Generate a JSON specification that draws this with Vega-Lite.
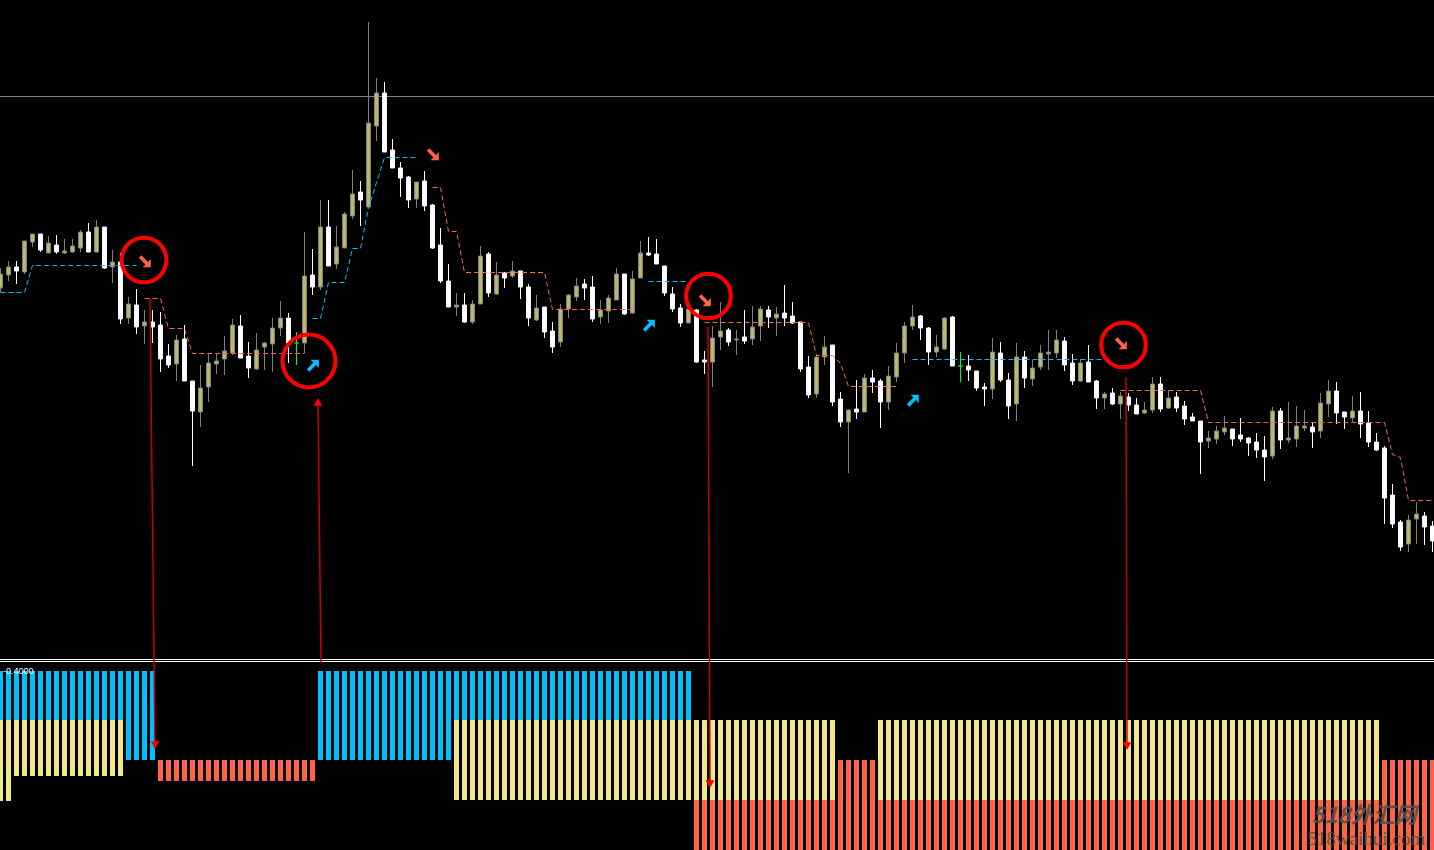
{
  "$schema": "https://vega.github.io/schema/vega-lite/v6.json",
  "width": 1434,
  "height": 850,
  "autosize": {"type": "none"},
  "padding": 0,
  "background": "#000000",
  "config": {"view": {"stroke": null}},
  "datasets": {
    "candles": [
      {"i":0,"o":372,"h":392,"l":368,"c":386,"s":368,"g":1,"t":"up"},
      {"i":1,"o":385,"h":399,"l":379,"c":393,"s":368,"g":1,"t":"up"},
      {"i":2,"o":393,"h":399,"l":376,"c":389,"s":368,"g":1,"t":"up"},
      {"i":3,"o":388,"h":419,"l":386,"c":419,"s":368,"g":1,"t":"up"},
      {"i":4,"o":418,"h":426,"l":413,"c":426,"s":395,"g":1,"t":"up"},
      {"i":5,"o":426,"h":426,"l":408,"c":410,"s":395,"g":1,"t":"up"},
      {"i":6,"o":407,"h":424,"l":407,"c":417,"s":395,"g":1,"t":"up"},
      {"i":7,"o":415,"h":425,"l":406,"c":408,"s":395,"g":1,"t":"up"},
      {"i":8,"o":407,"h":421,"l":406,"c":409,"s":395,"g":1,"t":"up"},
      {"i":9,"o":408,"h":421,"l":407,"c":414,"s":395,"g":1,"t":"up"},
      {"i":10,"o":412,"h":430,"l":408,"c":428,"s":395,"g":1,"t":"up"},
      {"i":11,"o":428,"h":437,"l":408,"c":408,"s":395,"g":1,"t":"up"},
      {"i":12,"o":408,"h":440,"l":407,"c":433,"s":395,"g":1,"t":"up"},
      {"i":13,"o":433,"h":433,"l":391,"c":392,"s":395,"g":1,"t":"up"},
      {"i":14,"o":393,"h":410,"l":377,"c":398,"s":395,"g":1,"t":"up"},
      {"i":15,"o":398,"h":407,"l":336,"c":341,"s":395,"g":1,"t":"up"},
      {"i":16,"o":342,"h":363,"l":336,"c":356,"s":395,"g":1,"t":"up"},
      {"i":17,"o":355,"h":371,"l":326,"c":333,"s":395,"g":1,"t":"up"},
      {"i":18,"o":334,"h":350,"l":316,"c":338,"s":362,"g":2,"t":"dn"},
      {"i":19,"o":338,"h":350,"l":317,"c":333,"s":362,"g":2,"t":"dn"},
      {"i":20,"o":335,"h":348,"l":288,"c":301,"s":362,"g":2,"t":"dn"},
      {"i":21,"o":304,"h":316,"l":292,"c":295,"s":332,"g":2,"t":"dn"},
      {"i":22,"o":296,"h":325,"l":279,"c":320,"s":332,"g":2,"t":"dn"},
      {"i":23,"o":321,"h":335,"l":279,"c":279,"s":332,"g":2,"t":"dn"},
      {"i":24,"o":279,"h":279,"l":194,"c":249,"s":307,"g":2,"t":"dn"},
      {"i":25,"o":248,"h":295,"l":233,"c":272,"s":307,"g":2,"t":"dn"},
      {"i":26,"o":273,"h":307,"l":258,"c":297,"s":307,"g":2,"t":"dn"},
      {"i":27,"o":296,"h":307,"l":286,"c":299,"s":307,"g":2,"t":"dn"},
      {"i":28,"o":301,"h":324,"l":285,"c":309,"s":307,"g":2,"t":"dn"},
      {"i":29,"o":307,"h":341,"l":305,"c":335,"s":307,"g":2,"t":"dn"},
      {"i":30,"o":334,"h":345,"l":302,"c":302,"s":307,"g":2,"t":"dn"},
      {"i":31,"o":304,"h":318,"l":282,"c":292,"s":307,"g":2,"t":"dn"},
      {"i":32,"o":291,"h":327,"l":290,"c":310,"s":307,"g":2,"t":"dn"},
      {"i":33,"o":313,"h":318,"l":290,"c":317,"s":307,"g":2,"t":"dn"},
      {"i":34,"o":316,"h":342,"l":288,"c":332,"s":307,"g":2,"t":"dn"},
      {"i":35,"o":332,"h":359,"l":324,"c":342,"s":307,"g":2,"t":"dn"},
      {"i":36,"o":342,"h":347,"l":297,"c":317,"s":307,"g":2,"t":"dn"},
      {"i":37,"o":317,"h":328,"l":295,"c":317,"s":307,"g":2,"t":"dn"},
      {"i":38,"o":317,"h":428,"l":307,"c":384,"s":307,"g":2,"t":"dn"},
      {"i":39,"o":385,"h":411,"l":365,"c":373,"s":342,"g":3,"t":"up"},
      {"i":40,"o":373,"h":460,"l":370,"c":433,"s":342,"g":3,"t":"up"},
      {"i":41,"o":433,"h":460,"l":394,"c":394,"s":378,"g":3,"t":"up"},
      {"i":42,"o":396,"h":434,"l":391,"c":413,"s":378,"g":3,"t":"up"},
      {"i":43,"o":412,"h":448,"l":412,"c":446,"s":378,"g":3,"t":"up"},
      {"i":44,"o":444,"h":490,"l":441,"c":466,"s":412,"g":3,"t":"up"},
      {"i":45,"o":468,"h":479,"l":434,"c":460,"s":412,"g":3,"t":"up"},
      {"i":46,"o":453,"h":638,"l":452,"c":537,"s":453,"g":3,"t":"up"},
      {"i":47,"o":534,"h":582,"l":519,"c":567,"s":478,"g":3,"t":"up"},
      {"i":48,"o":567,"h":578,"l":508,"c":508,"s":503,"g":3,"t":"up"},
      {"i":49,"o":510,"h":521,"l":492,"c":492,"s":503,"g":3,"t":"up"},
      {"i":50,"o":492,"h":498,"l":463,"c":482,"s":503,"g":3,"t":"up"},
      {"i":51,"o":483,"h":484,"l":452,"c":460,"s":503,"g":3,"t":"up"},
      {"i":52,"o":461,"h":478,"l":452,"c":478,"s":503,"g":3,"t":"up"},
      {"i":53,"o":479,"h":489,"l":449,"c":454,"s":null,"g":null,"t":null},
      {"i":54,"o":455,"h":456,"l":411,"c":412,"s":473,"g":4,"t":"dn"},
      {"i":55,"o":415,"h":432,"l":377,"c":379,"s":473,"g":4,"t":"dn"},
      {"i":56,"o":379,"h":396,"l":353,"c":353,"s":429,"g":4,"t":"dn"},
      {"i":57,"o":353,"h":367,"l":344,"c":355,"s":429,"g":4,"t":"dn"},
      {"i":58,"o":355,"h":367,"l":337,"c":338,"s":388,"g":4,"t":"dn"},
      {"i":59,"o":338,"h":360,"l":336,"c":356,"s":388,"g":4,"t":"dn"},
      {"i":60,"o":356,"h":414,"l":356,"c":404,"s":388,"g":4,"t":"dn"},
      {"i":61,"o":406,"h":408,"l":363,"c":367,"s":388,"g":4,"t":"dn"},
      {"i":62,"o":366,"h":398,"l":365,"c":385,"s":388,"g":4,"t":"dn"},
      {"i":63,"o":387,"h":388,"l":372,"c":382,"s":388,"g":4,"t":"dn"},
      {"i":64,"o":384,"h":399,"l":382,"c":389,"s":388,"g":4,"t":"dn"},
      {"i":65,"o":389,"h":389,"l":361,"c":373,"s":388,"g":4,"t":"dn"},
      {"i":66,"o":373,"h":376,"l":334,"c":342,"s":388,"g":4,"t":"dn"},
      {"i":67,"o":340,"h":365,"l":339,"c":352,"s":388,"g":4,"t":"dn"},
      {"i":68,"o":353,"h":353,"l":322,"c":328,"s":388,"g":4,"t":"dn"},
      {"i":69,"o":329,"h":338,"l":307,"c":313,"s":351,"g":4,"t":"dn"},
      {"i":70,"o":318,"h":356,"l":313,"c":351,"s":351,"g":4,"t":"dn"},
      {"i":71,"o":351,"h":366,"l":342,"c":365,"s":351,"g":4,"t":"dn"},
      {"i":72,"o":363,"h":382,"l":359,"c":374,"s":351,"g":4,"t":"dn"},
      {"i":73,"o":376,"h":381,"l":360,"c":372,"s":351,"g":4,"t":"dn"},
      {"i":74,"o":373,"h":384,"l":338,"c":341,"s":351,"g":4,"t":"dn"},
      {"i":75,"o":343,"h":360,"l":336,"c":350,"s":351,"g":4,"t":"dn"},
      {"i":76,"o":349,"h":365,"l":337,"c":362,"s":351,"g":4,"t":"dn"},
      {"i":77,"o":360,"h":392,"l":360,"c":386,"s":351,"g":4,"t":"dn"},
      {"i":78,"o":386,"h":386,"l":345,"c":346,"s":351,"g":4,"t":"dn"},
      {"i":79,"o":347,"h":389,"l":346,"c":381,"s":351,"g":4,"t":"dn"},
      {"i":80,"o":382,"h":419,"l":382,"c":407,"s":null,"g":null,"t":null},
      {"i":81,"o":407,"h":423,"l":404,"c":405,"s":379,"g":5,"t":"up"},
      {"i":82,"o":406,"h":421,"l":396,"c":396,"s":379,"g":5,"t":"up"},
      {"i":83,"o":394,"h":394,"l":364,"c":367,"s":379,"g":5,"t":"up"},
      {"i":84,"o":366,"h":373,"l":348,"c":351,"s":379,"g":5,"t":"up"},
      {"i":85,"o":352,"h":356,"l":333,"c":337,"s":379,"g":5,"t":"up"},
      {"i":86,"o":337,"h":351,"l":337,"c":351,"s":379,"g":5,"t":"up"},
      {"i":87,"o":350,"h":351,"l":297,"c":298,"s":null,"g":null,"t":null},
      {"i":88,"o":300,"h":309,"l":286,"c":298,"s":338,"g":6,"t":"dn"},
      {"i":89,"o":298,"h":334,"l":273,"c":322,"s":338,"g":6,"t":"dn"},
      {"i":90,"o":323,"h":358,"l":310,"c":329,"s":338,"g":6,"t":"dn"},
      {"i":91,"o":330,"h":332,"l":314,"c":318,"s":338,"g":6,"t":"dn"},
      {"i":92,"o":320,"h":330,"l":305,"c":321,"s":338,"g":6,"t":"dn"},
      {"i":93,"o":323,"h":350,"l":316,"c":319,"s":338,"g":6,"t":"dn"},
      {"i":94,"o":321,"h":354,"l":315,"c":333,"s":338,"g":6,"t":"dn"},
      {"i":95,"o":334,"h":354,"l":319,"c":351,"s":338,"g":6,"t":"dn"},
      {"i":96,"o":350,"h":354,"l":332,"c":343,"s":338,"g":6,"t":"dn"},
      {"i":97,"o":342,"h":353,"l":324,"c":346,"s":338,"g":6,"t":"dn"},
      {"i":98,"o":347,"h":375,"l":334,"c":342,"s":338,"g":6,"t":"dn"},
      {"i":99,"o":344,"h":358,"l":336,"c":337,"s":338,"g":6,"t":"dn"},
      {"i":100,"o":338,"h":338,"l":288,"c":291,"s":338,"g":6,"t":"dn"},
      {"i":101,"o":293,"h":304,"l":262,"c":265,"s":338,"g":6,"t":"dn"},
      {"i":102,"o":266,"h":305,"l":262,"c":303,"s":305,"g":6,"t":"dn"},
      {"i":103,"o":303,"h":324,"l":295,"c":313,"s":305,"g":6,"t":"dn"},
      {"i":104,"o":315,"h":315,"l":254,"c":258,"s":305,"g":6,"t":"dn"},
      {"i":105,"o":261,"h":268,"l":233,"c":238,"s":297,"g":6,"t":"dn"},
      {"i":106,"o":238,"h":251,"l":187,"c":250,"s":274,"g":6,"t":"dn"},
      {"i":107,"o":251,"h":280,"l":241,"c":248,"s":274,"g":6,"t":"dn"},
      {"i":108,"o":248,"h":286,"l":248,"c":282,"s":274,"g":6,"t":"dn"},
      {"i":109,"o":282,"h":290,"l":267,"c":278,"s":274,"g":6,"t":"dn"},
      {"i":110,"o":279,"h":281,"l":232,"c":258,"s":274,"g":6,"t":"dn"},
      {"i":111,"o":258,"h":294,"l":250,"c":284,"s":274,"g":6,"t":"dn"},
      {"i":112,"o":283,"h":317,"l":278,"c":307,"s":274,"g":6,"t":"dn"},
      {"i":113,"o":307,"h":338,"l":297,"c":334,"s":null,"g":null,"t":null},
      {"i":114,"o":334,"h":355,"l":330,"c":343,"s":301,"g":7,"t":"up"},
      {"i":115,"o":344,"h":345,"l":320,"c":332,"s":301,"g":7,"t":"up"},
      {"i":116,"o":332,"h":333,"l":295,"c":308,"s":301,"g":7,"t":"up"},
      {"i":117,"o":308,"h":325,"l":303,"c":313,"s":301,"g":7,"t":"up"},
      {"i":118,"o":311,"h":343,"l":310,"c":342,"s":301,"g":7,"t":"up"},
      {"i":119,"o":343,"h":344,"l":294,"c":294,"s":301,"g":7,"t":"up"},
      {"i":120,"o":294,"h":308,"l":278,"c":294,"s":301,"g":7,"t":"up"},
      {"i":121,"o":294,"h":305,"l":279,"c":290,"s":301,"g":7,"t":"up"},
      {"i":122,"o":289,"h":289,"l":269,"c":272,"s":301,"g":7,"t":"up"},
      {"i":123,"o":273,"h":277,"l":254,"c":271,"s":301,"g":7,"t":"up"},
      {"i":124,"o":271,"h":322,"l":261,"c":308,"s":301,"g":7,"t":"up"},
      {"i":125,"o":307,"h":318,"l":278,"c":280,"s":301,"g":7,"t":"up"},
      {"i":126,"o":280,"h":287,"l":241,"c":254,"s":301,"g":7,"t":"up"},
      {"i":127,"o":256,"h":317,"l":239,"c":303,"s":301,"g":7,"t":"up"},
      {"i":128,"o":303,"h":309,"l":272,"c":282,"s":301,"g":7,"t":"up"},
      {"i":129,"o":281,"h":300,"l":274,"c":292,"s":301,"g":7,"t":"up"},
      {"i":130,"o":293,"h":315,"l":290,"c":307,"s":301,"g":7,"t":"up"},
      {"i":131,"o":306,"h":330,"l":290,"c":308,"s":301,"g":7,"t":"up"},
      {"i":132,"o":307,"h":330,"l":302,"c":320,"s":301,"g":7,"t":"up"},
      {"i":133,"o":319,"h":323,"l":289,"c":295,"s":301,"g":7,"t":"up"},
      {"i":134,"o":297,"h":306,"l":275,"c":279,"s":301,"g":7,"t":"up"},
      {"i":135,"o":279,"h":301,"l":278,"c":297,"s":301,"g":7,"t":"up"},
      {"i":136,"o":298,"h":315,"l":278,"c":278,"s":301,"g":7,"t":"up"},
      {"i":137,"o":279,"h":280,"l":251,"c":262,"s":301,"g":7,"t":"up"},
      {"i":138,"o":262,"h":268,"l":251,"c":266,"s":301,"g":7,"t":"up"},
      {"i":139,"o":267,"h":272,"l":255,"c":256,"s":301,"g":7,"t":"up"},
      {"i":140,"o":256,"h":268,"l":241,"c":264,"s":270,"g":8,"t":"dn"},
      {"i":141,"o":263,"h":267,"l":249,"c":255,"s":270,"g":8,"t":"dn"},
      {"i":142,"o":255,"h":262,"l":246,"c":246,"s":270,"g":8,"t":"dn"},
      {"i":143,"o":247,"h":258,"l":246,"c":250,"s":270,"g":8,"t":"dn"},
      {"i":144,"o":250,"h":283,"l":247,"c":276,"s":270,"g":8,"t":"dn"},
      {"i":145,"o":276,"h":283,"l":248,"c":251,"s":270,"g":8,"t":"dn"},
      {"i":146,"o":252,"h":270,"l":251,"c":262,"s":270,"g":8,"t":"dn"},
      {"i":147,"o":263,"h":268,"l":248,"c":252,"s":270,"g":8,"t":"dn"},
      {"i":148,"o":254,"h":259,"l":235,"c":241,"s":270,"g":8,"t":"dn"},
      {"i":149,"o":243,"h":247,"l":239,"c":239,"s":270,"g":8,"t":"dn"},
      {"i":150,"o":239,"h":239,"l":186,"c":218,"s":270,"g":8,"t":"dn"},
      {"i":151,"o":219,"h":229,"l":212,"c":222,"s":238,"g":8,"t":"dn"},
      {"i":152,"o":221,"h":234,"l":216,"c":229,"s":238,"g":8,"t":"dn"},
      {"i":153,"o":228,"h":244,"l":225,"c":232,"s":238,"g":8,"t":"dn"},
      {"i":154,"o":231,"h":231,"l":214,"c":221,"s":238,"g":8,"t":"dn"},
      {"i":155,"o":225,"h":242,"l":218,"c":221,"s":238,"g":8,"t":"dn"},
      {"i":156,"o":222,"h":223,"l":204,"c":217,"s":238,"g":8,"t":"dn"},
      {"i":157,"o":218,"h":227,"l":202,"c":210,"s":238,"g":8,"t":"dn"},
      {"i":158,"o":210,"h":224,"l":179,"c":203,"s":238,"g":8,"t":"dn"},
      {"i":159,"o":204,"h":253,"l":201,"c":249,"s":238,"g":8,"t":"dn"},
      {"i":160,"o":249,"h":252,"l":211,"c":220,"s":238,"g":8,"t":"dn"},
      {"i":161,"o":220,"h":258,"l":217,"c":222,"s":238,"g":8,"t":"dn"},
      {"i":162,"o":221,"h":254,"l":213,"c":234,"s":238,"g":8,"t":"dn"},
      {"i":163,"o":232,"h":250,"l":229,"c":234,"s":238,"g":8,"t":"dn"},
      {"i":164,"o":233,"h":238,"l":212,"c":228,"s":238,"g":8,"t":"dn"},
      {"i":165,"o":229,"h":267,"l":222,"c":257,"s":238,"g":8,"t":"dn"},
      {"i":166,"o":256,"h":280,"l":243,"c":269,"s":238,"g":8,"t":"dn"},
      {"i":167,"o":269,"h":278,"l":236,"c":247,"s":238,"g":8,"t":"dn"},
      {"i":168,"o":248,"h":248,"l":231,"c":243,"s":238,"g":8,"t":"dn"},
      {"i":169,"o":242,"h":264,"l":237,"c":249,"s":238,"g":8,"t":"dn"},
      {"i":170,"o":249,"h":268,"l":222,"c":236,"s":238,"g":8,"t":"dn"},
      {"i":171,"o":237,"h":249,"l":213,"c":218,"s":238,"g":8,"t":"dn"},
      {"i":172,"o":218,"h":227,"l":209,"c":210,"s":238,"g":8,"t":"dn"},
      {"i":173,"o":212,"h":214,"l":136,"c":162,"s":238,"g":8,"t":"dn"},
      {"i":174,"o":165,"h":176,"l":132,"c":136,"s":206,"g":8,"t":"dn"},
      {"i":175,"o":138,"h":140,"l":109,"c":113,"s":203,"g":8,"t":"dn"},
      {"i":176,"o":116,"h":145,"l":108,"c":140,"s":160,"g":8,"t":"dn"},
      {"i":177,"o":141,"h":158,"l":116,"c":146,"s":160,"g":8,"t":"dn"},
      {"i":178,"o":144,"h":148,"l":115,"c":133,"s":160,"g":8,"t":"dn"},
      {"i":179,"o":134,"h":139,"l":108,"c":119,"s":160,"g":8,"t":"dn"}
    ],
    "levels": [
      {"st":"A","b0":90,"b1":179,"y0":49,"y1":130,"r0":null,"r1":null},
      {"st":"Ac","b0":90,"b1":179,"y0":74,"y1":130,"r0":null,"r1":null},
      {"st":"B","b0":90,"b1":179,"y0":null,"y1":null,"r0":null,"r1":null},
      {"st":"R1","b0":null,"b1":null,"y0":null,"y1":null,"r0":69,"r1":90},
      {"st":"BY","b0":90,"b1":179,"y0":50,"y1":130,"r0":null,"r1":null},
      {"st":"YR","b0":null,"b1":null,"y0":50,"y1":130,"r0":0,"r1":50},
      {"st":"R","b0":null,"b1":null,"y0":null,"y1":null,"r0":0,"r1":90}
    ],
    "hist": [
      {"i":0,"st":"A"},{"i":1,"st":"A"},{"i":2,"st":"Ac"},{"i":3,"st":"Ac"},{"i":4,"st":"Ac"},{"i":5,"st":"Ac"},{"i":6,"st":"Ac"},{"i":7,"st":"Ac"},{"i":8,"st":"Ac"},{"i":9,"st":"Ac"},
      {"i":10,"st":"Ac"},{"i":11,"st":"Ac"},{"i":12,"st":"Ac"},{"i":13,"st":"Ac"},{"i":14,"st":"Ac"},{"i":15,"st":"Ac"},{"i":16,"st":"B"},{"i":17,"st":"B"},{"i":18,"st":"B"},{"i":19,"st":"B"},
      {"i":20,"st":"R1"},{"i":21,"st":"R1"},{"i":22,"st":"R1"},{"i":23,"st":"R1"},{"i":24,"st":"R1"},{"i":25,"st":"R1"},{"i":26,"st":"R1"},{"i":27,"st":"R1"},{"i":28,"st":"R1"},{"i":29,"st":"R1"},
      {"i":30,"st":"R1"},{"i":31,"st":"R1"},{"i":32,"st":"R1"},{"i":33,"st":"R1"},{"i":34,"st":"R1"},{"i":35,"st":"R1"},{"i":36,"st":"R1"},{"i":37,"st":"R1"},{"i":38,"st":"R1"},{"i":39,"st":"R1"},
      {"i":40,"st":"B"},{"i":41,"st":"B"},{"i":42,"st":"B"},{"i":43,"st":"B"},{"i":44,"st":"B"},{"i":45,"st":"B"},{"i":46,"st":"B"},{"i":47,"st":"B"},{"i":48,"st":"B"},{"i":49,"st":"B"},
      {"i":50,"st":"B"},{"i":51,"st":"B"},{"i":52,"st":"B"},{"i":53,"st":"B"},{"i":54,"st":"B"},{"i":55,"st":"B"},{"i":56,"st":"B"},{"i":57,"st":"BY"},{"i":58,"st":"BY"},{"i":59,"st":"BY"},
      {"i":60,"st":"BY"},{"i":61,"st":"BY"},{"i":62,"st":"BY"},{"i":63,"st":"BY"},{"i":64,"st":"BY"},{"i":65,"st":"BY"},{"i":66,"st":"BY"},{"i":67,"st":"BY"},{"i":68,"st":"BY"},{"i":69,"st":"BY"},
      {"i":70,"st":"BY"},{"i":71,"st":"BY"},{"i":72,"st":"BY"},{"i":73,"st":"BY"},{"i":74,"st":"BY"},{"i":75,"st":"BY"},{"i":76,"st":"BY"},{"i":77,"st":"BY"},{"i":78,"st":"BY"},{"i":79,"st":"BY"},
      {"i":80,"st":"BY"},{"i":81,"st":"BY"},{"i":82,"st":"BY"},{"i":83,"st":"BY"},{"i":84,"st":"BY"},{"i":85,"st":"BY"},{"i":86,"st":"BY"},{"i":87,"st":"YR"},{"i":88,"st":"YR"},{"i":89,"st":"YR"},
      {"i":90,"st":"YR"},{"i":91,"st":"YR"},{"i":92,"st":"YR"},{"i":93,"st":"YR"},{"i":94,"st":"YR"},{"i":95,"st":"YR"},{"i":96,"st":"YR"},{"i":97,"st":"YR"},{"i":98,"st":"YR"},{"i":99,"st":"YR"},
      {"i":100,"st":"YR"},{"i":101,"st":"YR"},{"i":102,"st":"YR"},{"i":103,"st":"YR"},{"i":104,"st":"YR"},{"i":105,"st":"R"},{"i":106,"st":"R"},{"i":107,"st":"R"},{"i":108,"st":"R"},{"i":109,"st":"R"},
      {"i":110,"st":"YR"},{"i":111,"st":"YR"},{"i":112,"st":"YR"},{"i":113,"st":"YR"},{"i":114,"st":"YR"},{"i":115,"st":"YR"},{"i":116,"st":"YR"},{"i":117,"st":"YR"},{"i":118,"st":"YR"},{"i":119,"st":"YR"},
      {"i":120,"st":"YR"},{"i":121,"st":"YR"},{"i":122,"st":"YR"},{"i":123,"st":"YR"},{"i":124,"st":"YR"},{"i":125,"st":"YR"},{"i":126,"st":"YR"},{"i":127,"st":"YR"},{"i":128,"st":"YR"},{"i":129,"st":"YR"},
      {"i":130,"st":"YR"},{"i":131,"st":"YR"},{"i":132,"st":"YR"},{"i":133,"st":"YR"},{"i":134,"st":"YR"},{"i":135,"st":"YR"},{"i":136,"st":"YR"},{"i":137,"st":"YR"},{"i":138,"st":"YR"},{"i":139,"st":"YR"},
      {"i":140,"st":"YR"},{"i":141,"st":"YR"},{"i":142,"st":"YR"},{"i":143,"st":"YR"},{"i":144,"st":"YR"},{"i":145,"st":"YR"},{"i":146,"st":"YR"},{"i":147,"st":"YR"},{"i":148,"st":"YR"},{"i":149,"st":"YR"},
      {"i":150,"st":"YR"},{"i":151,"st":"YR"},{"i":152,"st":"YR"},{"i":153,"st":"YR"},{"i":154,"st":"YR"},{"i":155,"st":"YR"},{"i":156,"st":"YR"},{"i":157,"st":"YR"},{"i":158,"st":"YR"},{"i":159,"st":"YR"},
      {"i":160,"st":"YR"},{"i":161,"st":"YR"},{"i":162,"st":"YR"},{"i":163,"st":"YR"},{"i":164,"st":"YR"},{"i":165,"st":"YR"},{"i":166,"st":"YR"},{"i":167,"st":"YR"},{"i":168,"st":"YR"},{"i":169,"st":"YR"},
      {"i":170,"st":"YR"},{"i":171,"st":"YR"},{"i":172,"st":"YR"},{"i":173,"st":"R"},{"i":174,"st":"R"},{"i":175,"st":"R"},{"i":176,"st":"R"},{"i":177,"st":"R"},{"i":178,"st":"R"},{"i":179,"st":"R"}
    ],
    "signals": [
      {"i":18,"p":399,"t":"dn"},
      {"i":54,"p":506,"t":"dn"},
      {"i":88,"p":360,"t":"dn"},
      {"i":140,"p":317,"t":"dn"},
      {"i":39,"p":294,"t":"up"},
      {"i":81,"p":334,"t":"up"},
      {"i":114,"p":259,"t":"up"}
    ],
    "circles": [
      {"i":17.94,"p":400},
      {"i":38.56,"p":299},
      {"i":88.5,"p":364},
      {"i":140.38,"p":315}
    ],
    "notes": [
      {"i0":18.69,"p0":361,"i1":19.31,"p1":-86},
      {"i0":40.06,"p0":-3,"i1":39.69,"p1":258},
      {"i0":88.44,"p0":333,"i1":88.69,"p1":-125},
      {"i0":140.69,"p0":283,"i1":140.81,"p1":-87}
    ],
    "heads": [
      {"i":19.31,"p":-85,"dir":"down"},
      {"i":39.69,"p":258,"dir":"up"},
      {"i":88.69,"p":-124,"dir":"down"},
      {"i":140.81,"p":-86,"dir":"down"}
    ]
  },
  "resolve": {"scale": {"y": "independent"}},
  "layer": [
    {
      "data": {"name": "hist"},
      "transform": [
        {"lookup": "st", "from": {"data": {"name": "levels"}, "key": "st", "fields": ["b0","b1","y0","y1","r0","r1"]}},
        {"filter": "isValid(datum.b0)"}
      ],
      "mark": {"type": "bar", "width": 5, "color": "#00BFFF"},
      "encoding": {
        "x": {"field": "i", "type": "quantitative", "scale": {"domain": [-0.0625, 179.1875], "nice": false, "zero": false, "padding": 0}, "axis": null},
        "y": {"field": "b1", "type": "quantitative", "scale": {"domain": [0, 850], "nice": false, "zero": false, "padding": 0}, "axis": null},
        "y2": {"field": "b0"}
      }
    },
    {
      "data": {"name": "hist"},
      "transform": [
        {"lookup": "st", "from": {"data": {"name": "levels"}, "key": "st", "fields": ["b0","b1","y0","y1","r0","r1"]}},
        {"filter": "isValid(datum.y0)"}
      ],
      "mark": {"type": "bar", "width": 5, "color": "#F0E68C"},
      "encoding": {
        "x": {"field": "i", "type": "quantitative", "scale": {"domain": [-0.0625, 179.1875], "nice": false, "zero": false, "padding": 0}, "axis": null},
        "y": {"field": "y1", "type": "quantitative", "scale": {"domain": [0, 850], "nice": false, "zero": false, "padding": 0}, "axis": null},
        "y2": {"field": "y0"}
      }
    },
    {
      "data": {"name": "hist"},
      "transform": [
        {"lookup": "st", "from": {"data": {"name": "levels"}, "key": "st", "fields": ["b0","b1","y0","y1","r0","r1"]}},
        {"filter": "isValid(datum.r0)"}
      ],
      "mark": {"type": "bar", "width": 5, "color": "#FF6347"},
      "encoding": {
        "x": {"field": "i", "type": "quantitative", "scale": {"domain": [-0.0625, 179.1875], "nice": false, "zero": false, "padding": 0}, "axis": null},
        "y": {"field": "r1", "type": "quantitative", "scale": {"domain": [0, 850], "nice": false, "zero": false, "padding": 0}, "axis": null},
        "y2": {"field": "r0"}
      }
    },
    {
      "data": {"values": [{"p": 563.5}]},
      "mark": {"type": "rule", "color": "#778899", "strokeWidth": 1},
      "encoding": {
        "y": {"field": "p", "type": "quantitative", "scale": {"domain": [-190, 660], "nice": false, "zero": false, "padding": 0}, "axis": null}
      }
    },
    {
      "data": {"values": [{"p": 0.5}, {"p": -1.5}]},
      "mark": {"type": "rule", "color": "#FFFFFF", "strokeWidth": 1},
      "encoding": {
        "y": {"field": "p", "type": "quantitative", "scale": {"domain": [-190, 660], "nice": false, "zero": false, "padding": 0}, "axis": null}
      }
    },
    {
      "data": {"values": [{"i": 0.3, "v": 176, "label": "-0.4000"}]},
      "mark": {"type": "text", "align": "left", "baseline": "alphabetic", "font": "Liberation Sans", "fontSize": 9, "color": "#FFFFFF"},
      "encoding": {
        "x": {"field": "i", "type": "quantitative", "scale": {"domain": [-0.0625, 179.1875], "nice": false, "zero": false, "padding": 0}, "axis": null},
        "y": {"field": "v", "type": "quantitative", "scale": {"domain": [0, 850], "nice": false, "zero": false, "padding": 0}, "axis": null},
        "text": {"field": "label"}
      }
    },
    {
      "data": {"name": "candles"},
      "mark": {"type": "rule", "strokeWidth": 1},
      "encoding": {
        "x": {"field": "i", "type": "quantitative", "scale": {"domain": [-0.0625, 179.1875], "nice": false, "zero": false, "padding": 0}, "axis": null},
        "y": {"field": "h", "type": "quantitative", "scale": {"domain": [-190, 660], "nice": false, "zero": false, "padding": 0}, "axis": null},
        "y2": {"field": "l"},
        "color": {
          "condition": [
            {"test": "datum.o == datum.c", "value": "#00FF00"},
            {"test": "datum.c > datum.o", "value": "#808080"}
          ],
          "value": "#FFFFFF"
        }
      }
    },
    {
      "data": {"name": "candles"},
      "mark": {"type": "bar", "width": 4, "strokeWidth": 1},
      "encoding": {
        "x": {"field": "i", "type": "quantitative", "scale": {"domain": [-0.0625, 179.1875], "nice": false, "zero": false, "padding": 0}, "axis": null},
        "y": {"field": "o", "type": "quantitative", "scale": {"domain": [-190, 660], "nice": false, "zero": false, "padding": 0}, "axis": null},
        "y2": {"field": "c"},
        "fill": {
          "condition": [
            {"test": "datum.o == datum.c", "value": "#00FF00"},
            {"test": "datum.c > datum.o", "value": "#BDB76B"}
          ],
          "value": "#FFFFFF"
        },
        "stroke": {
          "condition": [
            {"test": "datum.o == datum.c", "value": "#00FF00"},
            {"test": "datum.c > datum.o", "value": "#808080"}
          ],
          "value": "#F4F4FF"
        }
      }
    },
    {
      "data": {"name": "candles"},
      "transform": [{"filter": "isValid(datum.s)"}],
      "mark": {"type": "line", "strokeWidth": 1, "strokeDash": [5, 3], "yOffset": 0.5},
      "encoding": {
        "x": {"field": "i", "type": "quantitative", "scale": {"domain": [-0.0625, 179.1875], "nice": false, "zero": false, "padding": 0}, "axis": null},
        "y": {"field": "s", "type": "quantitative", "scale": {"domain": [-190, 660], "nice": false, "zero": false, "padding": 0}, "axis": null},
        "color": {"field": "t", "type": "nominal", "scale": {"domain": ["up", "dn"], "range": ["#00BFFF", "#FF6347"]}, "legend": null},
        "detail": {"field": "g", "type": "nominal"}
      }
    },
    {
      "data": {"name": "signals"},
      "mark": {"type": "point", "filled": true, "size": 160, "opacity": 1, "strokeWidth": 0},
      "encoding": {
        "x": {"field": "i", "type": "quantitative", "scale": {"domain": [-0.0625, 179.1875], "nice": false, "zero": false, "padding": 0}, "axis": null},
        "y": {"field": "p", "type": "quantitative", "scale": {"domain": [-190, 660], "nice": false, "zero": false, "padding": 0}, "axis": null},
        "shape": {"condition": {"test": "datum.t == 'dn'", "value": "M 1 1 L -0.3 1 L 0.15 0.55 L -0.9 -0.5 L -0.5 -0.9 L 0.55 0.15 L 1 -0.3 Z"}, "value": "M 1 -1 L -0.3 -1 L 0.15 -0.55 L -0.9 0.5 L -0.5 0.9 L 0.55 -0.15 L 1 0.3 Z"},
        "color": {"field": "t", "type": "nominal", "scale": {"domain": ["up", "dn"], "range": ["#00BFFF", "#FF6347"]}, "legend": null}
      }
    },
    {
      "data": {"name": "circles"},
      "transform": [{"filter": "datum.i < 38 || datum.i > 39"}],
      "mark": {"type": "point", "shape": "circle", "filled": false, "stroke": "#FF0000", "strokeWidth": 4, "size": 2000, "opacity": 1},
      "encoding": {
        "x": {"field": "i", "type": "quantitative", "scale": {"domain": [-0.0625, 179.1875], "nice": false, "zero": false, "padding": 0}, "axis": null},
        "y": {"field": "p", "type": "quantitative", "scale": {"domain": [-190, 660], "nice": false, "zero": false, "padding": 0}, "axis": null}
      }
    },
    {
      "data": {"name": "circles"},
      "transform": [{"filter": "datum.i > 38 && datum.i < 39"}],
      "mark": {"type": "point", "shape": "circle", "filled": false, "stroke": "#FF0000", "strokeWidth": 4, "size": 2800, "opacity": 1},
      "encoding": {
        "x": {"field": "i", "type": "quantitative", "scale": {"domain": [-0.0625, 179.1875], "nice": false, "zero": false, "padding": 0}, "axis": null},
        "y": {"field": "p", "type": "quantitative", "scale": {"domain": [-190, 660], "nice": false, "zero": false, "padding": 0}, "axis": null}
      }
    },
    {
      "data": {"name": "notes"},
      "mark": {"type": "rule", "color": "#C80000", "strokeWidth": 1.5},
      "encoding": {
        "x": {"field": "i0", "type": "quantitative", "scale": {"domain": [-0.0625, 179.1875], "nice": false, "zero": false, "padding": 0}, "axis": null},
        "x2": {"field": "i1"},
        "y": {"field": "p0", "type": "quantitative", "scale": {"domain": [-190, 660], "nice": false, "zero": false, "padding": 0}, "axis": null},
        "y2": {"field": "p1"}
      }
    },
    {
      "data": {"name": "heads"},
      "mark": {"type": "point", "filled": true, "color": "#FF0000", "size": 80, "opacity": 1, "strokeWidth": 0},
      "encoding": {
        "x": {"field": "i", "type": "quantitative", "scale": {"domain": [-0.0625, 179.1875], "nice": false, "zero": false, "padding": 0}, "axis": null},
        "y": {"field": "p", "type": "quantitative", "scale": {"domain": [-190, 660], "nice": false, "zero": false, "padding": 0}, "axis": null},
        "shape": {"condition": {"test": "datum.dir == 'down'", "value": "triangle-down"}, "value": "triangle-up"}
      }
    },
    {
      "data": {"values": [{"i": 170.44, "v": 27, "label": "518外汇网"}]},
      "mark": {"type": "text", "align": "center", "baseline": "alphabetic", "font": "Noto Sans CJK SC", "fontSize": 22, "fontWeight": "bold", "fontStyle": "italic", "color": "#505050", "opacity": 0.9},
      "encoding": {
        "x": {"field": "i", "type": "quantitative", "scale": {"domain": [-0.0625, 179.1875], "nice": false, "zero": false, "padding": 0}, "axis": null},
        "y": {"field": "v", "type": "quantitative", "scale": {"domain": [0, 850], "nice": false, "zero": false, "padding": 0}, "axis": null},
        "text": {"field": "label"}
      }
    },
    {
      "data": {"values": [{"i": 170.7, "v": 5, "label": "518waihui.com"}]},
      "mark": {"type": "text", "align": "center", "baseline": "alphabetic", "font": "Liberation Serif", "fontSize": 19, "color": "#505050", "opacity": 0.9},
      "encoding": {
        "x": {"field": "i", "type": "quantitative", "scale": {"domain": [-0.0625, 179.1875], "nice": false, "zero": false, "padding": 0}, "axis": null},
        "y": {"field": "v", "type": "quantitative", "scale": {"domain": [0, 850], "nice": false, "zero": false, "padding": 0}, "axis": null},
        "text": {"field": "label"}
      }
    }
  ]
}
